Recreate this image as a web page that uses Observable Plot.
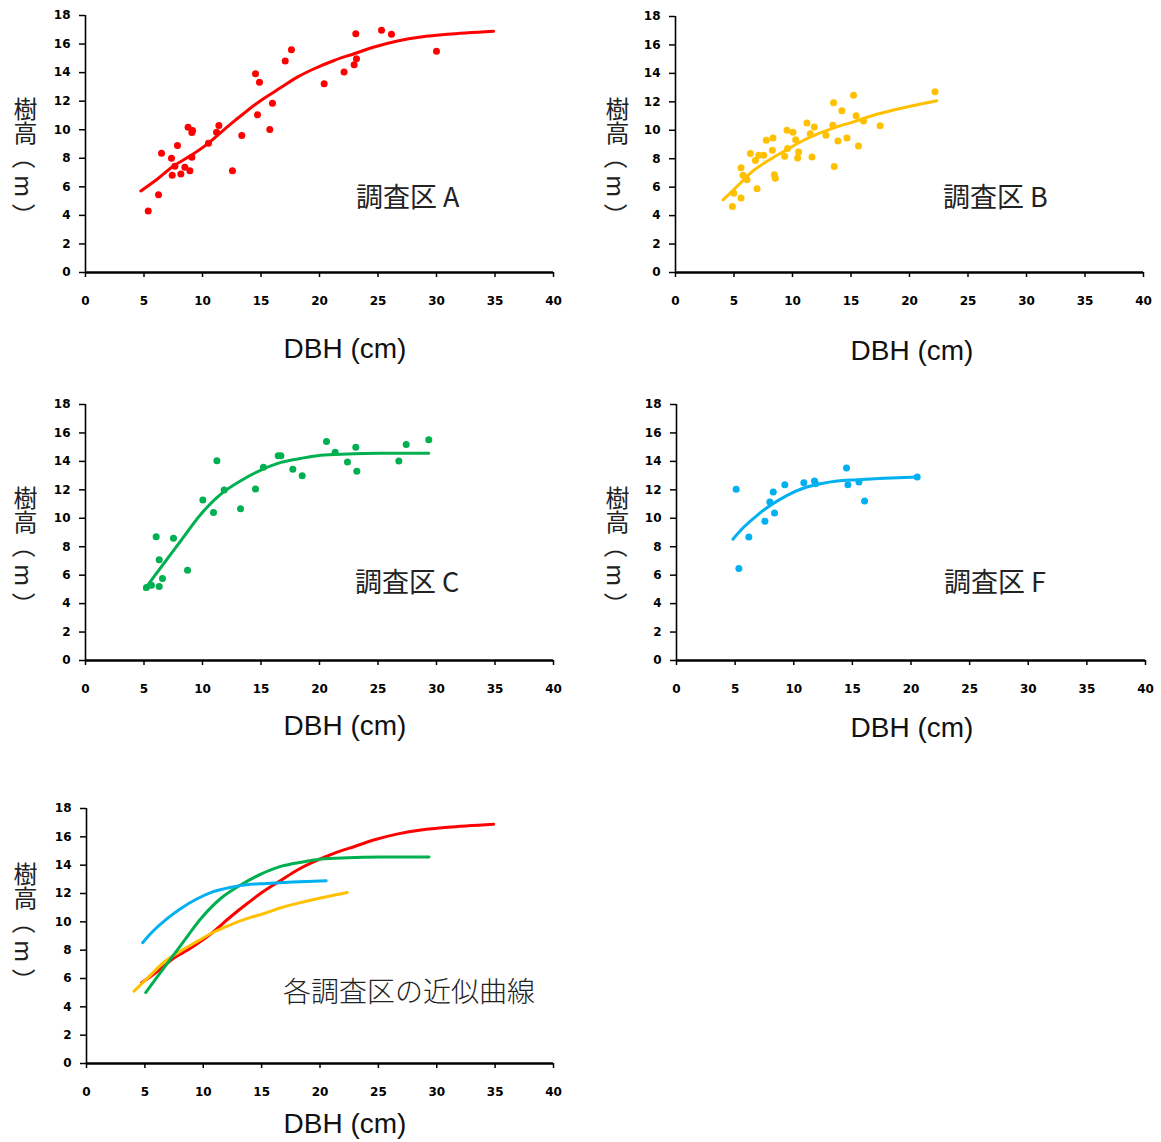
<!DOCTYPE html>
<html>
<head>
<meta charset="utf-8">
<script src="https://cdn.jsdelivr.net/npm/d3@7"></script>
<script src="https://cdn.jsdelivr.net/npm/@observablehq/plot@0.6"></script>
<style>
  html, body { margin: 0; padding: 0; background: #fff; }
  #wrap { position: relative; width: 1161px; height: 1142px; background: #fff; overflow: hidden; }
  .panel { position: absolute; }
  .xt { position: absolute; transform: translate(-50%, -50%); font-family: "Liberation Sans", Arial, sans-serif; font-size: 28px; color: #111; white-space: nowrap; }
  .yt { position: absolute; transform: translateX(-50%); writing-mode: vertical-rl; text-orientation: mixed; text-spacing-trim: space-all; font-family: "Noto Sans CJK JP", sans-serif; font-size: 24px; line-height: 1; color: #222; white-space: nowrap; }
  .yt .p { text-orientation: sideways; }
  .pl { position: absolute; transform: translateY(-50%); font-family: "Noto Sans CJK JP", sans-serif; font-size: 27px; color: #222; white-space: nowrap; }
</style>
</head>
<body>
<div id="wrap"></div>
<script>
// ---- tick values ----
const xTicks = [0, 5, 10, 15, 20, 25, 30, 35, 40];
const yTicks = [0, 2, 4, 6, 8, 10, 12, 14, 16, 18];

// ---- 調査区 A ----
const aDBH = [5.36,6.24,6.5,7.86,7.35,7.64,7.41,8.15,8.49,8.92,8.77,9.15,9.09,9.09,10.51,11.2,11.4,12.56,13.36,14.53,14.87,14.7,15.98,15.75,17.07,17.6,20.4,22.1,22.96,23.16,23.1,25.3,26.15,30.0];
const aHt  = [4.30,5.45,8.35,8.89,8.0,7.44,6.81,6.90,7.37,7.13,10.18,9.94,9.80,8.07,9.05,9.82,10.29,7.13,9.59,13.92,13.33,11.04,11.86,10.01,14.81,15.6,13.22,14.04,14.55,14.97,16.73,16.96,16.68,15.49];
const aCurveX = [4.73,6.15,7.58,9.0,10.43,12.42,13.85,14.99,16.7,18.1,19.54,21.25,22.96,24.67,26.67,28.66,30.94,34.87];
const aCurveY = [5.71,6.55,7.49,8.19,9.01,10.41,11.35,12.05,12.95,13.68,14.27,14.85,15.32,15.79,16.21,16.49,16.68,16.89];

// ---- 調査区 B ----
const bDBH = [4.86,5.6,4.98,6.97,5.6,5.77,6.11,6.4,6.83,7.11,7.54,7.76,8.33,8.28,8.45,8.53,9.33,9.53,9.58,10.04,10.27,10.44,10.52,11.23,11.86,11.52,11.66,12.86,13.45,13.51,13.57,13.88,14.22,14.65,15.22,15.44,15.64,16.07,17.49,22.18];
const bHt  = [4.64,5.24,5.58,5.88,7.37,6.83,6.52,8.36,7.88,8.24,8.24,9.3,9.46,8.59,6.87,6.63,8.17,10.0,8.71,9.86,9.34,8.05,8.47,10.52,10.23,9.76,8.12,9.65,10.35,11.93,7.46,9.25,11.37,9.46,12.47,11.03,8.9,10.66,10.31,12.71];
const bCurveX = [4.07,5.26,6.68,8.1,9.53,10.95,12.37,13.79,15.22,16.64,18.06,19.48,22.33];
const bCurveY = [5.11,6.05,7.18,7.96,8.64,9.3,9.81,10.24,10.59,10.99,11.3,11.58,12.07];

// ---- 調査区 C ----
const cDBH = [5.21,5.64,6.3,6.58,6.3,6.04,7.52,8.72,10.03,10.94,11.23,11.85,13.25,14.53,15.21,16.47,16.7,17.72,18.52,20.6,21.34,22.39,23.1,23.19,26.78,27.41,29.34];
const cHt  = [5.13,5.29,5.2,5.76,7.08,8.7,8.6,6.35,11.28,10.41,14.05,11.98,10.67,12.05,13.58,14.4,14.4,13.44,12.99,15.39,14.64,13.95,14.99,13.3,14.03,15.18,15.53];
const cCurveX = [5.07,6.44,8.15,9.86,11.57,13.28,14.99,16.7,18.4,20.11,22.39,25.24,29.34];
const cCurveY = [5.01,6.54,8.42,10.29,11.7,12.64,13.39,13.93,14.21,14.43,14.52,14.57,14.57];

// ---- 調査区 F ----
const fDBH = [5.09,5.32,6.17,7.54,7.96,8.25,8.36,9.24,10.86,11.77,11.86,14.5,14.62,15.56,16.04,20.53];
const fHt  = [12.04,6.47,8.69,9.79,11.15,11.85,10.37,12.36,12.5,12.62,12.43,13.53,12.36,12.55,11.22,12.9];
const fCurveX = [4.81,5.75,6.88,8.02,9.44,10.86,12.29,13.71,15.41,17.69,20.53];
const fCurveY = [8.53,9.39,10.21,10.91,11.61,12.13,12.43,12.62,12.71,12.81,12.9];

// ---- labels ----
const plotNames = ["調査区 A", "調査区 B", "調査区 C", "調査区 F"];
const summaryTitle = "各調査区の近似曲線";
const xTitle = "DBH (cm)";
const yTitleMain = "樹高";
const yTitleUnit = "（m）";

const colors = { A: "#ff0000", B: "#ffc000", C: "#00b050", F: "#00b0f0" };

const zip = (xs, ys) => xs.map((x, i) => ({ x, y: ys[i] }));

const series = {
  A: { pts: zip(aDBH, aHt), curve: zip(aCurveX, aCurveY) },
  B: { pts: zip(bDBH, bHt), curve: zip(bCurveX, bCurveY) },
  C: { pts: zip(cDBH, cHt), curve: zip(cCurveX, cCurveY) },
  F: { pts: zip(fDBH, fHt), curve: zip(fCurveX, fCurveY) }
};

const wrap = document.getElementById("wrap");

function makePanel({ left, top, plotW, plotH, keys, dots }) {
  const mL = 85, mT = 15, mB = 48, mR = 18;
  const marks = [];
  for (const k of keys) {
    marks.push(Plot.line(series[k].curve, { x: "x", y: "y", stroke: colors[k], strokeWidth: 3, curve: "catmull-rom" }));
    if (dots) marks.push(Plot.dot(series[k].pts, { x: "x", y: "y", fill: colors[k], r: 3.5 }));
  }
  const svg = Plot.plot({
    width: mL + plotW + mR,
    height: mT + plotH + mB,
    marginLeft: mL, marginRight: mR, marginTop: mT, marginBottom: mB,
    style: "font-family: 'DejaVu Sans', sans-serif; font-size: 12px; font-weight: bold; color: #000; background: transparent; overflow: visible;",
    x: { domain: [0, 40] },
    y: { domain: [0, 18] },
    marks: [
      Plot.axisX({ ticks: xTicks, tickSize: 5, tickPadding: 19, label: null, tickFormat: d => String(d), strokeWidth: 1.5 }),
      Plot.axisY({ ticks: yTicks, tickSize: 6, tickPadding: 9, label: null, tickFormat: d => String(d), strokeWidth: 1.5 }),
      Plot.ruleX([0], { strokeWidth: 1.6, stroke: "#000" }),
      Plot.ruleY([0], { strokeWidth: 2.4, stroke: "#000" }),
      ...marks
    ]
  });
  svg.classList.add("panel");
  svg.style.left = left + "px";
  svg.style.top = top + "px";
  wrap.appendChild(svg);
}

function addDiv(cls, text, x, y) {
  const d = document.createElement("div");
  d.className = cls;
  d.textContent = text;
  d.style.left = x + "px";
  d.style.top = y + "px";
  wrap.appendChild(d);
  return d;
}

function addYTitle(x, y) {
  const d = addDiv("yt", yTitleMain, x, y);
  const sp = document.createElement("span");
  sp.className = "p";
  sp.textContent = yTitleUnit;
  sp.style.letterSpacing = "6px";
  d.appendChild(sp);
}

makePanel({ left: 0, top: 0, plotW: 468, plotH: 257, keys: ["A"], dots: true });
makePanel({ left: 590, top: 1, plotW: 468, plotH: 256, keys: ["B"], dots: true });
makePanel({ left: 0, top: 389, plotW: 468, plotH: 256, keys: ["C"], dots: true });
makePanel({ left: 591, top: 389, plotW: 469, plotH: 256, keys: ["F"], dots: true });
makePanel({ left: 1, top: 793, plotW: 467, plotH: 255, keys: ["A", "B", "C", "F"], dots: false });

addDiv("xt", xTitle, 345, 349);
addDiv("xt", xTitle, 912, 351);
addDiv("xt", xTitle, 345, 726);
addDiv("xt", xTitle, 912, 728);
addDiv("xt", xTitle, 345, 1124);

addYTitle(25, 97);
addYTitle(617, 97);
addYTitle(25, 486);
addYTitle(617, 486);
addYTitle(25, 862);

addDiv("pl", plotNames[0], 356, 195);
addDiv("pl", plotNames[1], 943, 195);
addDiv("pl", plotNames[2], 355, 580);
addDiv("pl", plotNames[3], 944, 580);
const s = addDiv("pl", summaryTitle, 283, 990);
s.style.fontSize = "28px";
s.style.fontWeight = "300";
</script>
</body>
</html>
